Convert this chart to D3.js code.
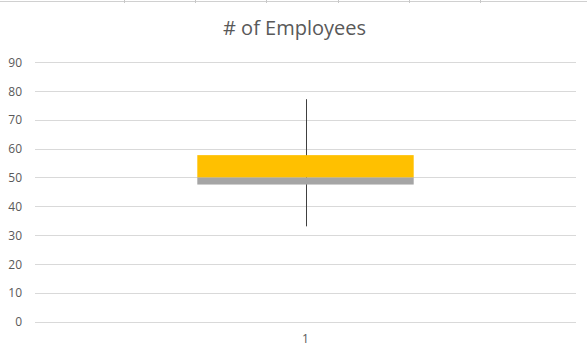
<!DOCTYPE html>
<html><head><meta charset="utf-8">
<script src="https://cdn.jsdelivr.net/npm/d3@7"></script>
<style>body{margin:0;background:#fff}svg{display:block}</style>
</head><body>
<script>
const categories = ["1"];
const q1 = [47.5];
const median = [50];
const q3 = [57.7];
const whiskerMin = [33];
const whiskerMax = [77.1];
const yTicks = [0,10,20,30,40,50,60,70,80,90];
const title = "# of Employees";

(function(){
const W = 587, H = 353;
const svg = d3.select("body").append("svg").attr("width", W).attr("height", H);
svg.append("rect").attr("width", W).attr("height", H).attr("fill", "#fff");

// spreadsheet cell border artifact at top
svg.append("line").attr("x1",0).attr("x2",W).attr("y1",1.5).attr("y2",1.5).attr("stroke","#d0d0d0");
[124,195,266,338,409,480].forEach(x=>{
  svg.append("line").attr("x1",x+0.5).attr("x2",x+0.5).attr("y1",0).attr("y2",3).attr("stroke","#c8c8c8");
});

const pL = 35, pR = 576, pT = 62, pB = 321.5;
const y = d3.scaleLinear().domain([0,90]).range([pB, pT]);
const x = d3.scaleBand().domain(categories).range([pL, pR]).paddingInner(0.6).paddingOuter(0.3);

// gridlines
svg.append("g").selectAll("line").data(yTicks).join("line")
  .attr("x1", pL).attr("x2", pR)
  .attr("y1", d => Math.round(y(d)) + 0.5).attr("y2", d => Math.round(y(d)) + 0.5)
  .attr("stroke", "#d9d9d9").attr("stroke-width", 1);

// y axis labels
const yAxis = d3.axisLeft(y).tickValues(yTicks).tickSize(0).tickPadding(0);
const ga = svg.append("g").attr("transform", `translate(${22},0)`).call(yAxis);
ga.select(".domain").remove();
ga.selectAll("text").attr("font-family","Open Sans, sans-serif").attr("font-size", 12).style("fill","#595959").attr("dy","0.35em");

// x axis label
const xAxis = d3.axisBottom(x).tickSize(0).tickPadding(0);
const gx = svg.append("g").attr("transform", `translate(0,${334})`).call(xAxis);
gx.select(".domain").remove();
gx.selectAll("text").attr("font-family","Open Sans, sans-serif").attr("font-size", 12).style("fill","#595959");

// whisker
svg.append("g").selectAll("line").data(categories).join("line")
  .attr("x1", d => Math.round(x(d) + x.bandwidth()/2) + 0.5)
  .attr("x2", d => Math.round(x(d) + x.bandwidth()/2) + 0.5)
  .attr("y1", (d,i) => y(whiskerMax[i])).attr("y2", (d,i) => y(whiskerMin[i]))
  .attr("stroke", "#404040").attr("stroke-width", 1);

// lower box (Q1 -> median)
svg.append("g").selectAll("rect").data(categories).join("rect")
  .attr("x", d => x(d)).attr("width", x.bandwidth())
  .attr("y", (d,i) => y(median[i])).attr("height", (d,i) => y(q1[i]) - y(median[i]))
  .attr("fill", "#a5a5a5");
// upper box (median -> Q3)
svg.append("g").selectAll("rect").data(categories).join("rect")
  .attr("x", d => x(d)).attr("width", x.bandwidth())
  .attr("y", (d,i) => y(q3[i])).attr("height", (d,i) => y(median[i]) - y(q3[i]))
  .attr("fill", "#ffc000");

// title
svg.append("text").attr("x", 294.5).attr("y", 35).attr("text-anchor","middle")
  .attr("font-family","Open Sans, sans-serif").attr("font-size", 20).style("fill","#595959")
  .text(title);
})();
</script>
</body></html>
